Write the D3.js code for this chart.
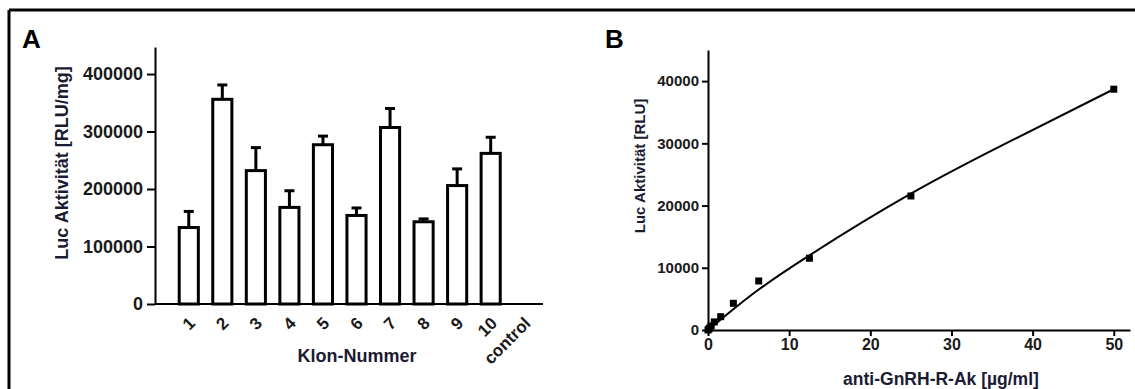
<!DOCTYPE html>
<html>
<head>
<meta charset="utf-8">
<script src="https://cdn.jsdelivr.net/npm/d3@7"></script>
<style>
  body { margin: 0; background: #fff; }
  svg { display: block; font-family: "Liberation Sans", Arial, sans-serif; }
  .axis path, .axis line { stroke: #000; stroke-width: 2; }
  .axis text { fill: #1a1a1a; font-weight: bold; }
</style>
</head>
<body>
<div id="vis"></div>
<script>
const FRAME_WIDTH = 1135;
const FRAME_HEIGHT = 389;

// panel A data
const CLONES = ["1", "2", "3", "4", "5", "6", "7", "8", "9", "10", "control"];
const CLONE_MEANS = [133000, 356000, 232000, 168000, 277000, 154000, 307000, 143000, 206000, 262000, null];
const CLONE_ERRORS = [28000, 25000, 40000, 29000, 15000, 13000, 33000, 5000, 29000, 28000, null];
const A_TICKS = [0, 100000, 200000, 300000, 400000];

// panel B data
const CONC = [0, 0.098, 0.195, 0.39, 0.78, 1.5625, 3.125, 6.25, 12.5, 25, 50];
const LUC = [0, 150, 300, 650, 1300, 2140, 4290, 7880, 11530, 21540, 38700];
const FIT_X = [0, 3, 6.25, 12.5, 25, 37.5, 50];
const FIT_Y = [0, 3200, 6500, 12000, 21900, 30500, 38700];
const B_YTICKS = [0, 10000, 20000, 30000, 40000];
const B_XTICKS = [0, 10, 20, 30, 40, 50];

const svg = d3.select("#vis")
  .append("svg")
    .attr("width", FRAME_WIDTH)
    .attr("height", FRAME_HEIGHT);

// frame lines (top and left edge of the figure box)
svg.append("line").attr("x1", 9).attr("x2", FRAME_WIDTH).attr("y1", 10).attr("y2", 10)
  .attr("stroke", "#000").attr("stroke-width", 3);
svg.append("line").attr("x1", 9).attr("x2", 9).attr("y1", 10).attr("y2", FRAME_HEIGHT)
  .attr("stroke", "#000").attr("stroke-width", 3);

// ---------- Panel A ----------
const A_LEFT = 155, A_RIGHT = 543, A_TOP = 47, A_BOTTOM = 304;

const XA = d3.scaleBand()
  .domain(CLONES)
  .range([172, 541])
  .paddingInner(0.43)
  .paddingOuter(0.215);

const YA = d3.scaleLinear()
  .domain([0, 447000])
  .range([A_BOTTOM, A_TOP]);

svg.append("text").attr("x", 22).attr("y", 48)
  .attr("font-size", 26).attr("font-weight", "bold").text("A");

// y axis
const yAxisA = svg.append("g")
  .attr("class", "axis")
  .attr("transform", `translate(${A_LEFT},0)`)
  .call(d3.axisLeft(YA).tickValues(A_TICKS).tickSize(8).tickSizeOuter(0).tickFormat(d3.format("d")));
yAxisA.selectAll("text").attr("font-size", 18).attr("dx", "-1");

// x axis line
svg.append("line").attr("x1", A_LEFT).attr("x2", A_RIGHT)
  .attr("y1", A_BOTTOM).attr("y2", A_BOTTOM)
  .attr("stroke", "#000").attr("stroke-width", 2);

// x tick labels rotated
svg.selectAll(".xlabA")
  .data(CLONES)
  .enter()
  .append("text")
    .attr("class", "xlabA")
    .attr("transform", d => `translate(${XA(d) + XA.bandwidth() / 2 - 1},${A_BOTTOM + 12}) rotate(-45)`)
    .attr("text-anchor", "end")
    .attr("dy", "0.7em")
    .attr("font-size", 17)
    .attr("font-weight", "bold")
    .attr("fill", "#1a1a1a")
    .text(d => d);

const barsA = CLONES.map((c, i) => ({ c: c, v: CLONE_MEANS[i], e: CLONE_ERRORS[i] }))
  .filter(d => d.v !== null);

// error bars
svg.selectAll(".errA")
  .data(barsA)
  .enter()
  .append("line")
    .attr("x1", d => XA(d.c) + XA.bandwidth() / 2)
    .attr("x2", d => XA(d.c) + XA.bandwidth() / 2)
    .attr("y1", d => YA(d.v))
    .attr("y2", d => YA(d.v + d.e))
    .attr("stroke", "#000").attr("stroke-width", 3);
svg.selectAll(".capA")
  .data(barsA)
  .enter()
  .append("line")
    .attr("x1", d => XA(d.c) + XA.bandwidth() / 2 - 5)
    .attr("x2", d => XA(d.c) + XA.bandwidth() / 2 + 5)
    .attr("y1", d => YA(d.v + d.e))
    .attr("y2", d => YA(d.v + d.e))
    .attr("stroke", "#000").attr("stroke-width", 3);

// bars
svg.selectAll(".barA")
  .data(barsA)
  .enter()
  .append("rect")
    .attr("x", d => XA(d.c))
    .attr("y", d => YA(d.v))
    .attr("width", XA.bandwidth())
    .attr("height", d => A_BOTTOM - YA(d.v))
    .attr("fill", "#fff")
    .attr("stroke", "#000")
    .attr("stroke-width", 3);

svg.append("text")
  .attr("transform", `translate(68,163) rotate(-90)`)
  .attr("text-anchor", "middle")
  .attr("font-size", 18).attr("font-weight", "bold").attr("fill", "#1b1b33")
  .text("Luc Aktivität [RLU/mg]");

svg.append("text")
  .attr("x", 357).attr("y", 362)
  .attr("text-anchor", "middle")
  .attr("font-size", 18).attr("font-weight", "bold").attr("fill", "#1b1b33")
  .text("Klon-Nummer");

// ---------- Panel B ----------
const B_LEFT = 708, B_RIGHT = 1130, B_TOP = 50, B_BOTTOM = 330;

const XB = d3.scaleLinear().domain([0, 52]).range([B_LEFT, B_RIGHT]);
const YB = d3.scaleLinear().domain([0, 45000]).range([B_BOTTOM, B_TOP]);

svg.append("text").attr("x", 605).attr("y", 48)
  .attr("font-size", 26).attr("font-weight", "bold").text("B");

const yAxisB = svg.append("g")
  .attr("class", "axis")
  .attr("transform", `translate(${B_LEFT},0)`)
  .call(d3.axisLeft(YB).tickValues(B_YTICKS).tickSize(6).tickSizeOuter(0).tickFormat(d3.format("d")));
yAxisB.selectAll("text").attr("font-size", 15);

const xAxisB = svg.append("g")
  .attr("class", "axis")
  .attr("transform", `translate(0,${B_BOTTOM})`)
  .call(d3.axisBottom(XB).tickValues(B_XTICKS).tickSize(6).tickSizeOuter(0));
xAxisB.selectAll("text").attr("font-size", 16);

// fitted curve
const fitLine = d3.line()
  .x(d => XB(d[0]))
  .y(d => YB(d[1]))
  .curve(d3.curveNatural);
svg.append("path")
  .datum(FIT_X.map((x, i) => [x, FIT_Y[i]]))
  .attr("d", fitLine)
  .attr("fill", "none")
  .attr("stroke", "#000")
  .attr("stroke-width", 2);

// points
svg.selectAll(".ptB")
  .data(CONC.map((x, i) => [x, LUC[i]]))
  .enter()
  .append("rect")
    .attr("x", d => XB(d[0]) - 3.5)
    .attr("y", d => YB(d[1]) - 3.5)
    .attr("width", 7)
    .attr("height", 7)
    .attr("fill", "#000");

svg.append("text")
  .attr("transform", `translate(645,166) rotate(-90)`)
  .attr("text-anchor", "middle")
  .attr("font-size", 15).attr("font-weight", "bold").attr("fill", "#1b1b33")
  .text("Luc Aktivität [RLU]");

svg.append("text")
  .attr("x", 941).attr("y", 385)
  .attr("text-anchor", "middle")
  .attr("font-size", 17.5).attr("font-weight", "bold").attr("fill", "#1b1b33")
  .text("anti-GnRH-R-Ak [µg/ml]");
</script>
</body>
</html>
